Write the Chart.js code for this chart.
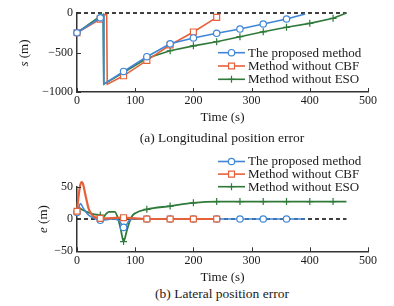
<!DOCTYPE html>
<html><head><meta charset="utf-8">
<script src="https://cdn.jsdelivr.net/npm/chart.js@4/dist/chart.umd.min.js"></script>
<style>
html,body{margin:0;padding:0;background:#fff;}
body{width:394px;height:306px;position:relative;overflow:hidden;font-family:"Liberation Serif","Times New Roman",serif;color:#1a1a1a;}
canvas{position:absolute;left:0;}
#c1{top:0;}
#c2{top:140px;}
.cap{position:absolute;left:72px;width:300px;text-align:center;font-size:13.5px;line-height:16px;white-space:nowrap;}
.yt{position:absolute;font-size:13px;line-height:15px;white-space:nowrap;transform:translate(-50%,-50%) rotate(-90deg);}
</style>
</head><body>
<canvas id="c1" width="394" height="125"></canvas>
<canvas id="c2" width="394" height="145"></canvas>
<div class="yt" style="left:23px;top:53px;"><i>s</i> (m)</div>
<div class="yt" style="left:42px;top:219px;"><i>e</i> (m)</div>
<div class="cap" style="top:130px;">(a) Longitudinal position error</div>
<div class="cap" style="top:286px;">(b) Lateral position error</div>
<script>
// ---------- data ----------
const seriesNames = ["The proposed method", "Method without CBF", "Method without ESO"];

// (a) longitudinal error s (m)
const sProposedT = [0, 40, 45, 46, 80, 120, 160, 200, 240, 280, 320, 360, 392];
const sProposedV = [-250, -60, -25, -900, -740, -553, -390, -316, -257, -203, -139, -76, -12];
const sNoCbfT = [0, 40, 46, 51, 52, 80, 120, 160, 200, 240];
const sNoCbfV = [-250, -78, -20, -20, -900, -795, -600, -405, -240, -55];
const sNoEsoT = [0, 40, 45, 46, 80, 120, 160, 200, 240, 280, 320, 360, 400, 440, 463];
const sNoEsoV = [-250, -40, -20, -900, -755, -573, -478, -416, -363, -300, -238, -181, -131, -67, 0];
const sRefT = [0, 463];
const sRefV = [0, 0];

// (b) lateral error e (m)
const eProposedT = [0, 3, 6, 10, 15, 20, 30, 40, 50, 60, 70, 75, 80, 85, 90, 100, 120, 160, 200, 240, 280, 320, 360, 392];
const eProposedV = [10, 18, 24, 18, 11, 6, 1, -2, -1, 0, -1, -6, -13, -9, -2, 0, 0, 0, 0, 0, 0, 0, 0, 0];
const eNoCbfT = [0, 2, 5, 8, 10, 15, 20, 25, 30, 40, 80, 120, 160, 200, 240, 246];
const eNoCbfV = [12, 30, 50, 57, 55, 35, 16, 7, 3, 1, 2, 0, 0, 0, 0, 0];
const eNoEsoT = [0, 3, 10, 20, 30, 40, 45, 50, 55, 65, 70, 75, 80, 85, 90, 95, 100, 120, 160, 200, 240, 280, 320, 360, 400, 440, 463];
const eNoEsoV = [12, 17, 14, 10, 7, 6, 3, 8, 11, 11, 2, -15, -35, -20, -5, 5, 9, 15, 20, 25, 27, 27, 27, 27, 27, 27, 27];
const eRefT = [0, 463];
const eRefV = [0, 0];

const xTickStep = 100;
const markerEvery = 40;

// ---------- style ----------
const COL = ['#3f86d8', '#e5613a', '#2f7a3a'];
const STYLE = ['circle', 'rect', 'cross'];
const RAD = [3.2, 4.2, 3.5];
const AXIS = '#333';
const TXT = '#1a1a1a';
const FONT = '"Liberation Serif","Times New Roman",serif';

const pts = (t, v) => t.map((x, i) => ({x, y: v[i]}));

function ds(i, t, v, lw, smooth) {
  return {
    label: seriesNames[i],
    sidx: i,
    data: pts(t, v),
    borderColor: COL[i],
    backgroundColor: '#fff',
    borderWidth: lw,
    pointStyle: STYLE[i],
    pointBorderColor: COL[i],
    pointBackgroundColor: '#fff',
    pointBorderWidth: 1.2,
    pointRadius: c => (c.raw && c.raw.x % markerEvery === 0) ? RAD[i] : 0,
    pointHoverRadius: 0,
    tension: 0,
    cubicInterpolationMode: smooth ? 'monotone' : 'default',
    clip: false
  };
}
function refDs(t, v) {
  return {label: '', data: pts(t, v), borderColor: '#000', borderWidth: 1.4, borderDash: [4, 3],
    pointRadius: 0, clip: false, tension: 0};
}

function drawMarker(ctx, style, x, y, r, col) {
  ctx.save();
  ctx.strokeStyle = col; ctx.fillStyle = '#fff'; ctx.lineWidth = 1.2;
  ctx.beginPath();
  if (style === 'circle') { ctx.arc(x, y, r, 0, Math.PI * 2); ctx.fill(); ctx.stroke(); }
  else if (style === 'rect') { const s = r * Math.SQRT1_2; ctx.rect(x - s, y - s, 2 * s, 2 * s); ctx.fill(); ctx.stroke(); }
  else { ctx.moveTo(x - r, y); ctx.lineTo(x + r, y); ctx.moveTo(x, y - r); ctx.lineTo(x, y + r); ctx.stroke(); }
  ctx.restore();
}

const lineLegend = {
  id: 'lineLegend',
  afterDraw(chart, args, o) {
    const ctx = chart.ctx;
    const items = chart.data.datasets.filter(d => d.label).sort((a, b) => a.sidx - b.sidx);
    items.forEach((d, k) => {
      const y = o.y + o.row * k;
      ctx.save();
      ctx.strokeStyle = d.borderColor; ctx.lineWidth = 1.6;
      ctx.beginPath(); ctx.moveTo(o.x, y); ctx.lineTo(o.x + o.len, y); ctx.stroke();
      drawMarker(ctx, d.pointStyle, o.x + o.len / 2, y, RAD[d.sidx], d.borderColor);
      ctx.fillStyle = TXT; ctx.font = '13px ' + FONT; ctx.textBaseline = 'middle'; ctx.textAlign = 'left';
      ctx.fillText(d.label, o.x + o.len + 3, y + 0.5);
      ctx.restore();
    });
  }
};

const inTicks = {
  id: 'inTicks',
  afterDraw(chart) {
    const {ctx, chartArea: a, scales: {x, y}} = chart;
    ctx.save(); ctx.strokeStyle = AXIS; ctx.lineWidth = 1;
    x.ticks.forEach(t => { const p = Math.round(x.getPixelForValue(t.value)) + 0.5; ctx.beginPath(); ctx.moveTo(p, a.bottom); ctx.lineTo(p, a.bottom - 4); ctx.stroke(); });
    y.ticks.forEach(t => { const p = Math.round(y.getPixelForValue(t.value)) + 0.5; ctx.beginPath(); ctx.moveTo(a.left, p); ctx.lineTo(a.left + 4, p); ctx.stroke(); });
    ctx.restore();
  }
};

function makeChart(id, datasets, yMin, yMax, yStep, pad, xBoxH, legend) {
  return new Chart(document.getElementById(id), {
    type: 'line',
    data: {datasets},
    plugins: [inTicks, lineLegend],
    options: {
      responsive: false, animation: false, devicePixelRatio: 1,
      layout: {padding: pad},
      plugins: {legend: {display: false}, tooltip: {enabled: false}, lineLegend: legend},
      scales: {
        x: {type: 'linear', min: 0, max: 500,
          ticks: {stepSize: xTickStep, padding: 2, maxRotation: 0, color: TXT, font: {family: FONT, size: 12}},
          grid: {display: false, drawTicks: false},
          border: {display: true, color: AXIS, width: 1.5},
          title: {display: true, text: 'Time (s)', color: TXT, font: {family: FONT, size: 13}, padding: 0},
          afterFit: s => { s.height = xBoxH; }},
        y: {type: 'linear', min: yMin, max: yMax,
          ticks: {stepSize: yStep, padding: 4, color: TXT, font: {family: FONT, size: 12},
            callback: v => String(v).replace('-', '\u2212')},
          grid: {display: false, drawTicks: false},
          border: {display: true, color: AXIS, width: 1.5},
          afterFit: s => { s.width = 77; }}
      }
    }
  });
}

makeChart('c1', [
  ds(0, sProposedT, sProposedV, 1.6, false),
  ds(1, sNoCbfT, sNoCbfV, 1.6, false),
  ds(2, sNoEsoT, sNoEsoV, 1.6, false),
  refDs(sRefT, sRefV)
], -1000, 0, 500, {top: 13, right: 26, left: 0, bottom: 0}, 33,
  {x: 218, len: 27, y: 52.7, row: 13.3});

makeChart('c2', [
  ds(1, eNoCbfT, eNoCbfV, 2.2, true),
  ds(0, eProposedT, eProposedV, 1.6, true),
  ds(2, eNoEsoT, eNoEsoV, 1.8, true),
  refDs(eRefT, eRefV)
], -50, 50, 50, {top: 46.7, right: 26, left: 0, bottom: 0}, 33.7,
  {x: 218, len: 27, y: 21.5, row: 12.6});
</script>
</body></html>
